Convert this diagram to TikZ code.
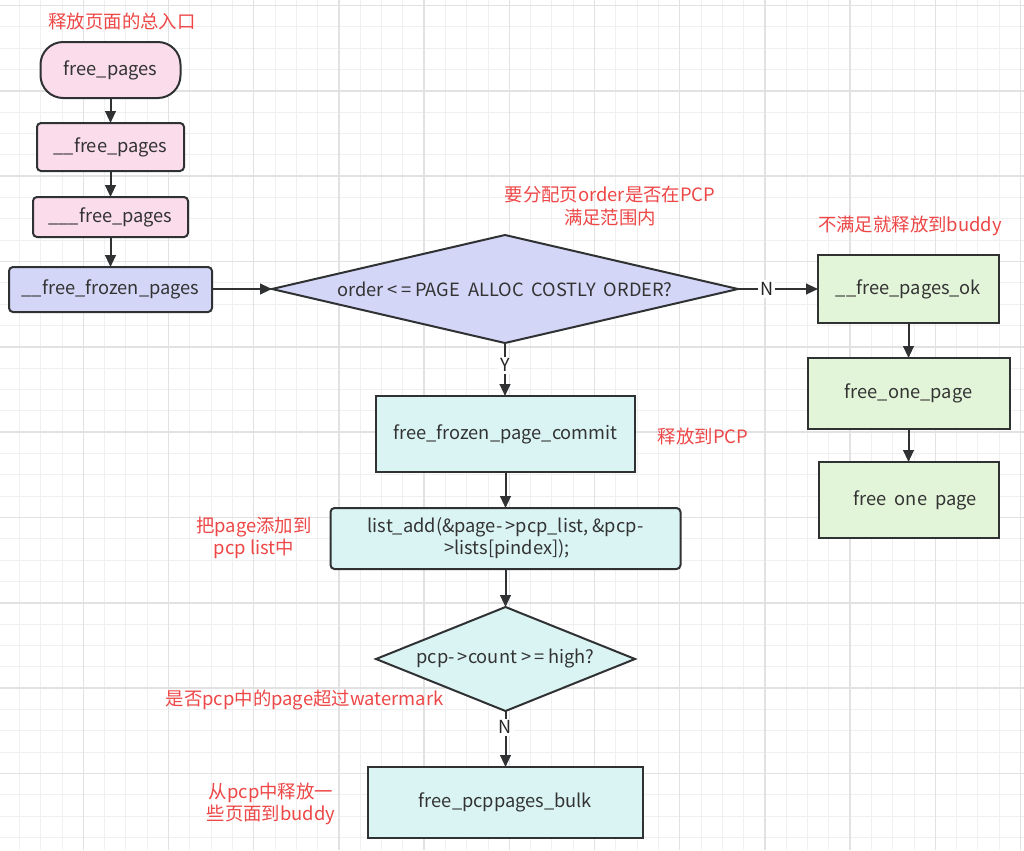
\documentclass[tikz,border=0pt]{standalone}
\usepackage{fontspec}
\setmainfont{Noto Sans CJK SC}
\usetikzlibrary{arrows.meta,shapes.geometric}
\definecolor{gminor}{HTML}{F0F0F0}
\definecolor{gmajor}{HTML}{E2E2E2}
\definecolor{edge}{HTML}{2F3133}
\definecolor{txt}{HTML}{333333}
\definecolor{redt}{HTML}{EE4747}
\definecolor{pinkf}{HTML}{FADCEB}
\definecolor{lavf}{HTML}{D3D6F7}
\definecolor{greenf}{HTML}{E3F5D9}
\definecolor{cyanf}{HTML}{DAF4F4}
\begin{document}
\begin{tikzpicture}[x=0.75pt,y=-0.75pt,
  box/.style={draw=edge,line width=1.5pt,inner sep=0pt,outer sep=0pt,text=txt,font=\fontsize{13.7pt}{16.5pt}\selectfont,align=center},
  pinkstad/.style={box,fill=pinkf,rounded corners=17pt},
  pinkbox/.style={box,fill=pinkf,rounded corners=3pt},
  lavbox/.style={box,fill=lavf,rounded corners=3pt},
  lavdia/.style={box,diamond,fill=lavf},
  greenbox/.style={box,fill=greenf},
  cyanbox/.style={box,fill=cyanf},
  cyanrbox/.style={box,fill=cyanf,rounded corners=3pt},
  cyandia/.style={box,diamond,fill=cyanf},
  note/.style={text=redt,font=\fontsize{13.8pt}{16.8pt}\selectfont,align=center,inner sep=0pt},
  yn/.style={fill=white,text=black!85,font=\fontsize{13.5pt}{15pt}\selectfont,inner sep=1.5pt},
  arr/.style={draw=edge,line width=1.5pt,-{Triangle[length=9pt,width=8pt]}}
]
\useasboundingbox (0,0) rectangle (1024,850);
\fill[white] (0,0) rectangle (1024,850);
% grid
\foreach \i in {0,...,48} {\draw[gminor,line width=0.75pt] ({-1.9+21.3*\i},0) -- ({-1.9+21.3*\i},850);}
\foreach \i in {0,...,39} {\draw[gminor,line width=0.75pt] (0,{5.5+21.33*\i}) -- (1024,{5.5+21.33*\i});}
\foreach \i in {0,...,12} {\draw[gmajor,line width=1.1pt] ({-1.9+85.2*\i},0) -- ({-1.9+85.2*\i},850);}
\foreach \i in {0,...,9} {\draw[gmajor,line width=1.1pt] (0,{5.5+85.33*\i}) -- (1024,{5.5+85.33*\i});}

% left column
\node[pinkstad,minimum width=105pt,minimum height=42pt] (fp) at (110.5,70) {free\_pages};
\node[pinkbox,minimum width=110.25pt,minimum height=36pt] (fp2) at (110.5,147) {\_\_free\_pages};
\node[pinkbox,minimum width=116.25pt,minimum height=30pt] (fp3) at (110.5,217) {\_\_\_free\_pages};
\node[lavbox,minimum width=152.25pt,minimum height=33.75pt] (ffp) at (110.5,289.5) {\_\_free\_frozen\_pages};

% main decision
\node[lavdia,minimum width=349.5pt,minimum height=81pt] (d1) at (505,289) {\makebox[0pt]{order <\,= PAGE\hspace{6pt}ALLOC\hspace{6pt}COSTLY\hspace{6pt}ORDER?}};

% right column
\node[greenbox,minimum width=135.75pt,minimum height=51pt] (ok) at (908.5,289) {\_\_free\_pages\_ok};
\node[greenbox,minimum width=151.5pt,minimum height=53.25pt] (fop) at (908.5,393.5) {free\_one\_page};
\node[greenbox,minimum width=135pt,minimum height=57pt] (fop2) at (908.5,500) {\hspace*{10pt}free\hspace{6pt}one\hspace{6pt}page};

% center column
\node[cyanbox,minimum width=194.25pt,minimum height=57pt] (ffpc) at (505.5,434) {free\_frozen\_page\_commit};
\node[cyanrbox,minimum width=262.5pt,minimum height=45.75pt] (la) at (505.5,538.5) {list\_add(\&page-\,>pcp\_list, \&pcp-\\\,>lists[pindex]);};
\node[cyandia,minimum width=194.25pt,minimum height=78pt] (d2) at (505.5,659) {\makebox[0pt]{pcp-\,>count >\,= high?}};
\node[cyanbox,minimum width=206.25pt,minimum height=53.25pt] (bulk) at (505.5,802.5) {free\_pcppages\_bulk};

% notes
\node[note] (n1) at (122,21) {释放页面的总入口};
\node[note] (n2) at (610,206) {要分配页order是否在PCP\\满足范围内};
\node[note] (n3) at (910,226) {不满足就释放到buddy};
\node[note] (n4) at (703,436) {释放到PCP};
\node[note] (n5) at (254,538) {把page添加到\\pcp list中};
\node[note] (n6) at (304.5,700) {是否pcp中的page超过watermark};
\node[note] (n7) at (271,804) {从pcp中释放一\\些页面到buddy};

% connectors
\draw[arr] (fp.south) -- (fp.south |- fp2.north);
\draw[arr] (fp2.south) -- (fp2.south |- fp3.north);
\draw[arr] (fp3.south) -- (fp3.south |- ffp.north);
\draw[arr] (ffp.east |- d1.west) -- (d1.west);
\draw[arr] (d1.east) -- node[yn,pos=0.36]{N} (ok.west);
\draw[arr] (ok.south) -- (ok.south |- fop.north);
\draw[arr] (fop.south) -- (fop.south |- fop2.north);
\draw[arr] (d1.south) -- node[yn,pos=0.42]{Y} (d1.south |- ffpc.north);
\draw[arr] (ffpc.south) -- (ffpc.south |- la.north);
\draw[arr] (la.south) -- (la.south |- d2.north);
\draw[arr] (d2.south) -- node[yn,pos=0.29]{N} (d2.south |- bulk.north);
\end{tikzpicture}
\end{document}
